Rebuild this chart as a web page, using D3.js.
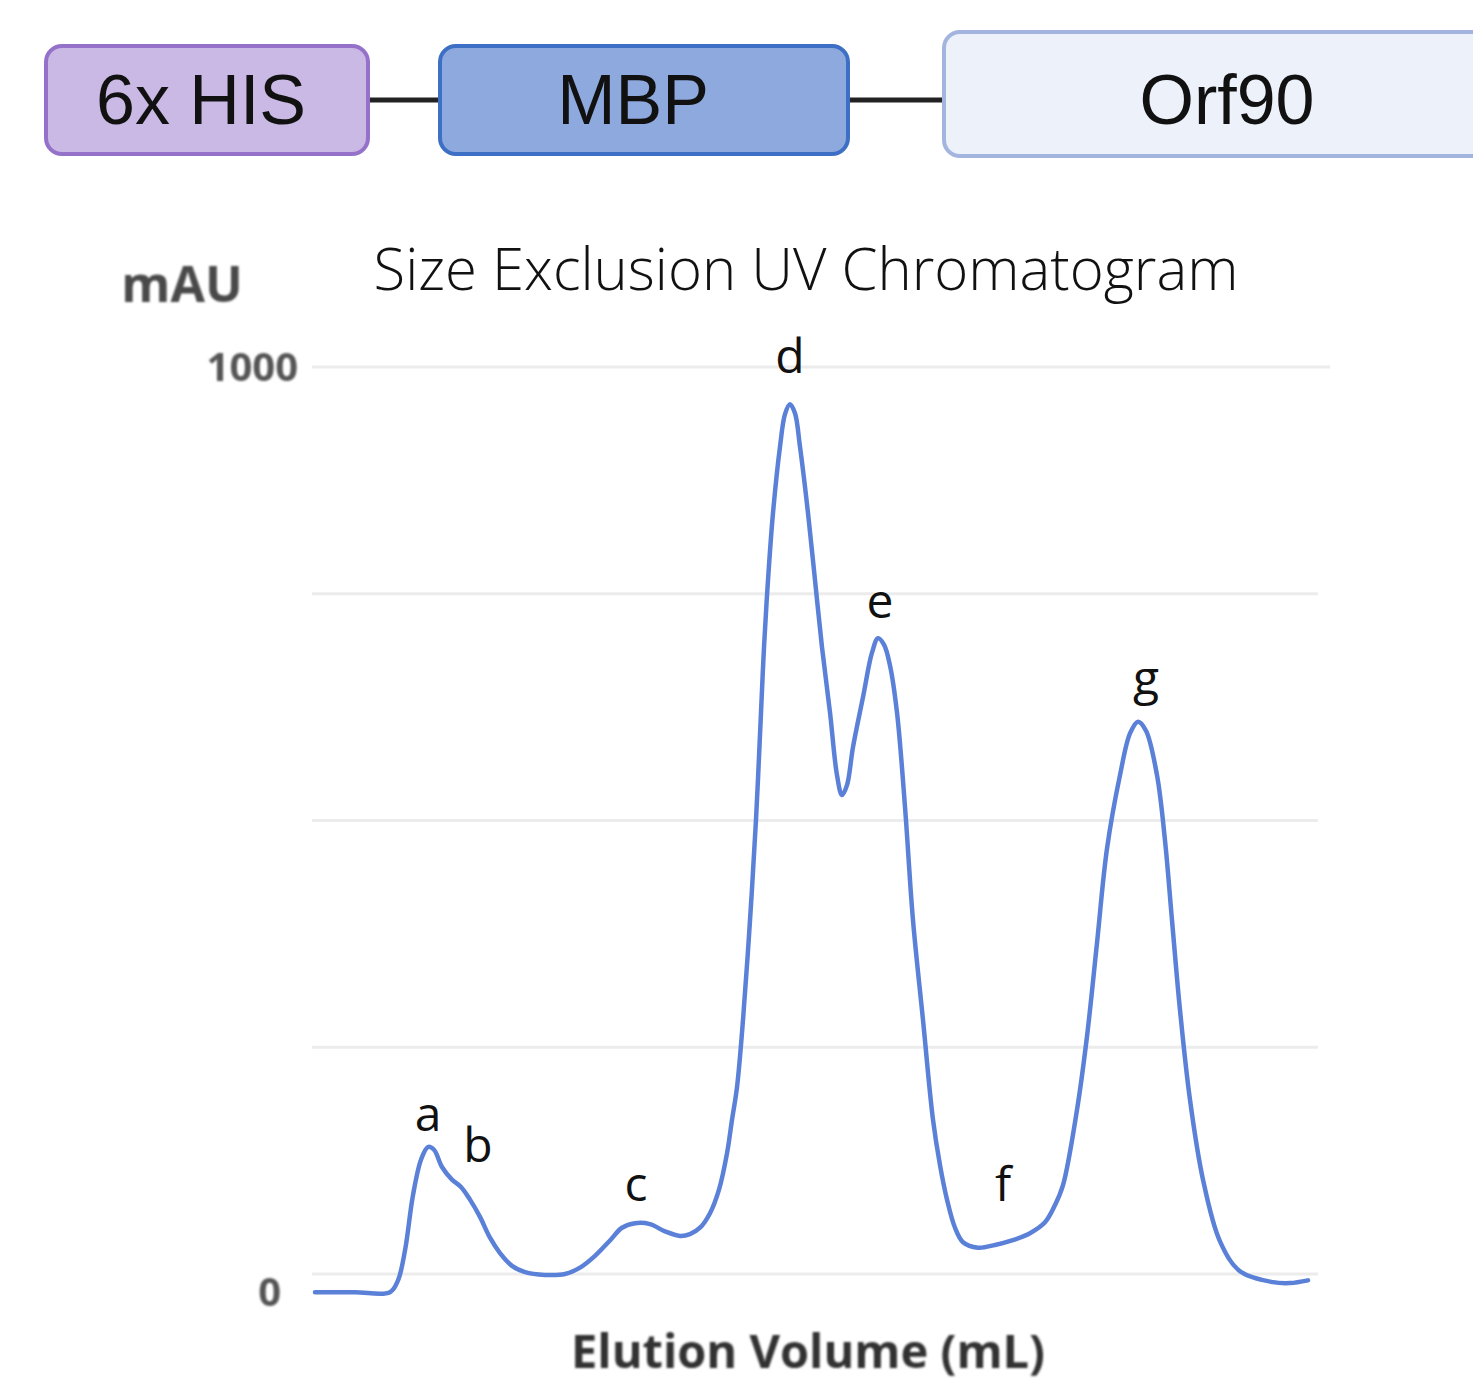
<!DOCTYPE html>
<html lang="en">
<head>
    <meta charset="UTF-8">
    <title>Size Exclusion UV Chromatogram</title>
    <script src="https://d3js.org/d3.v7.min.js"></script>
    <style>
        body { margin: 0; background: white; }
    </style>
</head>
<body>
<script>
    // construct domains, left to right
    const domainNames = ["6x HIS", "MBP", "Orf90"];

    // elution volume (arbitrary mL) and absorbance (mAU)
    const volume = [0, 1.0, 1.875, 2.075, 2.25, 2.45, 2.65, 2.825, 2.975, 3.175, 3.425, 3.65, 3.875,
        4.125, 4.375, 4.625, 4.925, 5.25, 5.75, 6.25, 6.625, 7.0, 7.375, 7.675, 8.0, 8.375,
        8.75, 9.125, 9.375, 9.625, 9.875, 10.1, 10.3, 10.425, 10.55, 10.7, 10.875, 11.025,
        11.15, 11.225, 11.325, 11.45, 11.625, 11.75, 11.875, 12.0, 12.125, 12.325, 12.5,
        12.675, 12.875, 13.05, 13.175, 13.3, 13.45, 13.7, 13.925, 14.075, 14.225, 14.375,
        14.55, 14.75, 14.95, 15.2, 15.45, 15.625, 15.8, 16.0, 16.2, 16.575, 17.0, 17.425,
        17.875, 18.25, 18.5, 18.7, 19.05, 19.3, 19.55, 19.8, 20.125, 20.375, 20.575, 20.775,
        21.05, 21.25, 21.425, 21.625, 21.875, 22.2, 22.625, 23.125, 23.95, 24.375, 24.825];
    const absorbance = [-20, -20, -20, -7, 26, 87, 126, 140, 137, 118, 104, 96, 82,
        63, 40, 23, 9, 2, -1, 0, 7, 20, 37, 51, 56, 55,
        47, 42, 44, 51, 67, 93, 133, 170, 206, 280, 390, 501,
        619, 691, 765, 839, 912, 948, 959, 949, 912, 839, 765,
        691, 619, 550, 528, 539, 581, 636, 685, 701, 694, 671,
        619, 515, 390, 280, 170, 120, 82, 51, 35, 29, 32, 37,
        45, 57, 76, 98, 181, 262, 365, 469, 550, 596, 609, 599,
        550, 478, 390, 291, 192, 104, 36, 3, -9, -10, -7];

    // peak labels
    const peakNames = ["a", "b", "c", "d", "e", "f", "g"];
    const peakVolume = [2.825, 4.075, 8.025, 11.875, 14.125, 17.2, 20.775];
    const peakLabelValue = [158, 123, 80, 993, 723, 81, 638];

    const gridValues = [0, 250, 500, 750, 1000];
    const tickLabels = ["0", "1000"];
    const tickValues = [0, 1000];

    const W = 1473, H = 1383;
    const svg = d3.select("body").append("svg")
        .attr("width", W)
        .attr("height", H)
        .style("font-family", "'Open Sans', sans-serif");

    const defs = svg.append("defs");
    defs.append("filter").attr("id", "soft")
        .append("feGaussianBlur").attr("stdDeviation", 0.9);

    // ---- construct diagram ----
    const boxes = [
        {x: 46, y: 46, w: 322, h: 108, fill: "#c9b9e4", stroke: "#9571c9", tx: 201},
        {x: 440, y: 46, w: 408, h: 108, fill: "#8ea9de", stroke: "#3d6fc4", tx: 633},
        {x: 944, y: 32, w: 560, h: 124, fill: "#edf1fa", stroke: "#a3b5de", tx: 1227}
    ];
    const construct = svg.append("g");
    construct.append("line").attr("x1", 368).attr("x2", 440).attr("y1", 100).attr("y2", 100)
        .attr("stroke", "#222").attr("stroke-width", 5);
    construct.append("line").attr("x1", 848).attr("x2", 944).attr("y1", 100).attr("y2", 100)
        .attr("stroke", "#222").attr("stroke-width", 5);
    const bx = construct.selectAll("g.box")
        .data(domainNames)
        .join("g").attr("class", "box");
    bx.append("rect")
        .attr("x", (d, i) => boxes[i].x)
        .attr("y", (d, i) => boxes[i].y)
        .attr("width", (d, i) => boxes[i].w)
        .attr("height", (d, i) => boxes[i].h)
        .attr("rx", 16)
        .attr("fill", (d, i) => boxes[i].fill)
        .attr("stroke", (d, i) => boxes[i].stroke)
        .attr("stroke-width", 4);
    bx.append("text")
        .attr("x", (d, i) => boxes[i].tx)
        .attr("y", 124)
        .attr("text-anchor", "middle")
        .style("font-family", "'Liberation Sans', Arial, sans-serif")
        .style("font-size", "70px")
        .attr("fill", "#111")
        .text(d => d);

    // ---- chromatogram ----
    const x = d3.scaleLinear().domain([0, 25]).range([315, 1315]);
    const y = d3.scaleLinear().domain([0, 1000]).range([1274, 367]);

    svg.append("g")
        .selectAll("line")
        .data(gridValues)
        .join("line")
        .attr("x1", 312)
        .attr("x2", d => d === 1000 ? 1330 : 1318)
        .attr("y1", d => y(d))
        .attr("y2", d => y(d))
        .attr("stroke", "#ececec")
        .attr("stroke-width", 3);

    svg.append("text")
        .attr("x", 806)
        .attr("y", 290)
        .attr("text-anchor", "middle")
        .style("font-size", "58px")
        .style("font-weight", 300)
        .attr("fill", "#111")
        .text("Size Exclusion UV Chromatogram");

    svg.append("text")
        .attr("x", 182)
        .attr("y", 302)
        .attr("text-anchor", "middle")
        .style("font-size", "50px")
        .style("font-weight", 700)
        .attr("fill", "#4a4a4a")
        .attr("filter", "url(#soft)")
        .text("mAU");

    svg.append("g")
        .selectAll("text")
        .data(tickValues)
        .join("text")
        .attr("x", d => d === 0 ? 281 : 298)
        .attr("y", d => y(d) + (d === 0 ? 18 : 0))
        .attr("dy", "0.35em")
        .attr("text-anchor", "end")
        .style("font-size", "40px")
        .style("font-weight", 700)
        .attr("fill", "#555")
        .attr("filter", "url(#soft)")
        .text((d, i) => tickLabels[i]);

    svg.append("text")
        .attr("x", 808)
        .attr("y", 1368)
        .attr("text-anchor", "middle")
        .style("font-size", "47px")
        .style("font-weight", 700)
        .attr("fill", "#333")
        .attr("filter", "url(#soft)")
        .text("Elution Volume (mL)");

    const line = d3.line()
        .x((d, i) => x(volume[i]))
        .y((d, i) => y(absorbance[i]))
        .curve(d3.curveCatmullRom.alpha(0.5));

    svg.append("path")
        .datum(volume)
        .attr("d", line)
        .attr("fill", "none")
        .attr("stroke", "#5a80d8")
        .attr("stroke-width", 4.5)
        .attr("stroke-linejoin", "round")
        .attr("stroke-linecap", "round");

    svg.append("g")
        .selectAll("text")
        .data(peakNames)
        .join("text")
        .attr("x", (d, i) => x(peakVolume[i]))
        .attr("y", (d, i) => y(peakLabelValue[i]))
        .attr("text-anchor", "middle")
        .style("font-size", "48px")
        .attr("fill", "#111")
        .text(d => d);
</script>
</body>
</html>
